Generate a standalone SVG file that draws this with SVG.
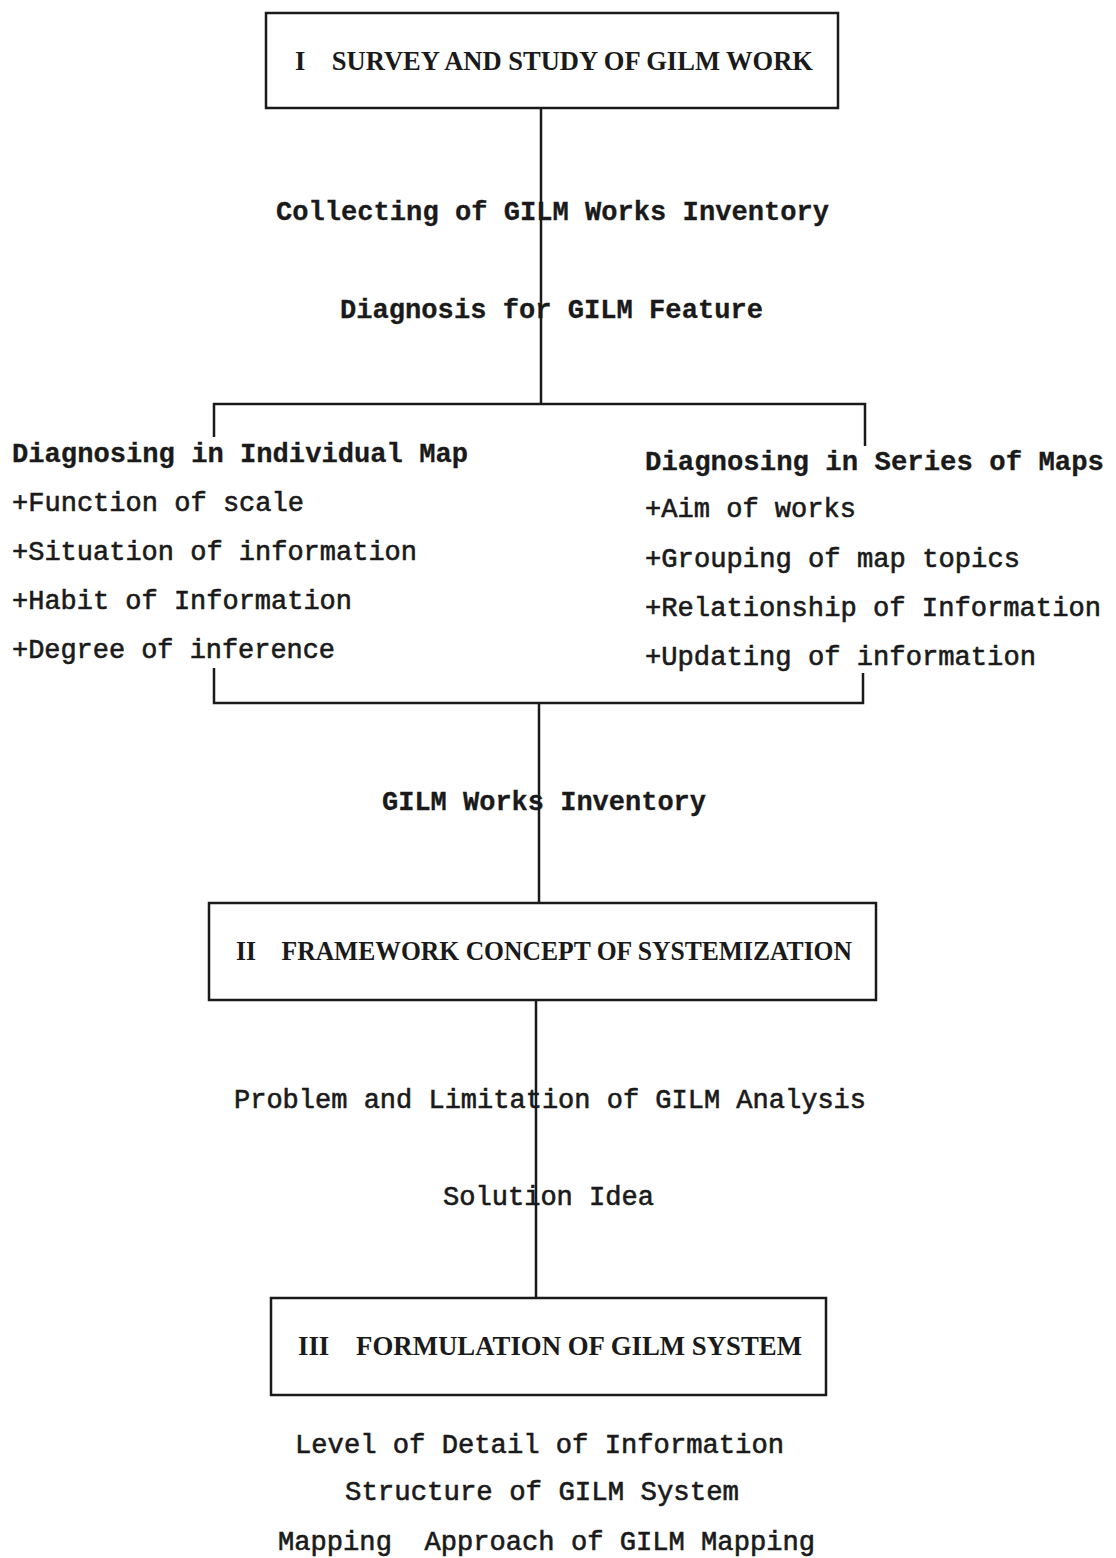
<svg xmlns="http://www.w3.org/2000/svg" width="1116" height="1558" viewBox="0 0 1116 1558">
<style>
.bg{fill:#ffffff}
.box{fill:none;stroke:#1a1a1a;stroke-width:2.5}
.ln{fill:none;stroke:#1a1a1a;stroke-width:2.5}
.t{font-family:"Liberation Mono","DejaVu Sans Mono",monospace;font-size:27px;fill:#1a1a1a;stroke:#1a1a1a;stroke-width:0.6}
.b{font-weight:bold;stroke-width:0.3}
.h{font-family:"Liberation Serif","DejaVu Serif",serif;font-size:27px;font-weight:bold;fill:#1a1a1a}
</style>
<rect class="bg" x="0" y="0" width="1116" height="1558"/>
<g id="connectors">
<line class="ln" x1="541" y1="108" x2="541" y2="404"/>
<polyline class="ln" points="214,437 214,404 865,404 865,446"/>
<polyline class="ln" points="214,668 214,703 863,703 863,673"/>
<line class="ln" x1="539" y1="703" x2="539" y2="903"/>
<line class="ln" x1="536" y1="1000" x2="536" y2="1298"/>
</g>
<g id="node-survey">
<rect class="box" x="266" y="13" width="572" height="95"/>
<text class="h" x="295" y="70" textLength="518" lengthAdjust="spacingAndGlyphs" xml:space="preserve">I    SURVEY AND STUDY OF GILM WORK</text>
</g>
<g id="label-collecting">
<text class="t b" x="276" y="220" textLength="553" lengthAdjust="spacingAndGlyphs">Collecting of GILM Works Inventory</text>
</g>
<g id="label-diagnosis">
<text class="t b" x="340" y="318" textLength="423" lengthAdjust="spacingAndGlyphs">Diagnosis for GILM Feature</text>
</g>
<g id="node-individual">
<text class="t b" x="12" y="462" textLength="456" lengthAdjust="spacingAndGlyphs">Diagnosing in Individual Map</text>
<text class="t" x="12" y="511" textLength="292" lengthAdjust="spacingAndGlyphs">+Function of scale</text>
<text class="t" x="12" y="560" textLength="405" lengthAdjust="spacingAndGlyphs">+Situation of information</text>
<text class="t" x="12" y="609" textLength="340" lengthAdjust="spacingAndGlyphs">+Habit of Information</text>
<text class="t" x="12" y="658" textLength="323" lengthAdjust="spacingAndGlyphs">+Degree of inference</text>
</g>
<g id="node-series">
<text class="t b" x="645" y="470" textLength="459" lengthAdjust="spacingAndGlyphs">Diagnosing in Series of Maps</text>
<text class="t" x="645" y="517" textLength="211" lengthAdjust="spacingAndGlyphs">+Aim of works</text>
<text class="t" x="645" y="567" textLength="375" lengthAdjust="spacingAndGlyphs">+Grouping of map topics</text>
<text class="t" x="645" y="616" textLength="456" lengthAdjust="spacingAndGlyphs">+Relationship of Information</text>
<text class="t" x="645" y="665" textLength="391" lengthAdjust="spacingAndGlyphs">+Updating of information</text>
</g>
<g id="label-inventory">
<text class="t b" x="382" y="810" textLength="324" lengthAdjust="spacingAndGlyphs">GILM Works Inventory</text>
</g>
<g id="node-framework">
<rect class="box" x="209" y="903" width="667" height="97"/>
<text class="h" x="236" y="960" textLength="616" lengthAdjust="spacingAndGlyphs" xml:space="preserve">II    FRAMEWORK CONCEPT OF SYSTEMIZATION</text>
</g>
<g id="label-problem">
<text class="t" x="234" y="1108" textLength="632" lengthAdjust="spacingAndGlyphs">Problem and Limitation of GILM Analysis</text>
</g>
<g id="label-solution">
<text class="t" x="443" y="1205" textLength="211" lengthAdjust="spacingAndGlyphs">Solution Idea</text>
</g>
<g id="node-formulation">
<rect class="box" x="271" y="1298" width="555" height="97"/>
<text class="h" x="298" y="1355" textLength="504" lengthAdjust="spacingAndGlyphs" xml:space="preserve">III    FORMULATION OF GILM SYSTEM</text>
</g>
<g id="node-outputs">
<text class="t" x="295" y="1453" textLength="489" lengthAdjust="spacingAndGlyphs">Level of Detail of Information</text>
<text class="t" x="345" y="1500" textLength="394" lengthAdjust="spacingAndGlyphs">Structure of GILM System</text>
<text class="t" x="278" y="1550" textLength="537" lengthAdjust="spacingAndGlyphs" xml:space="preserve">Mapping  Approach of GILM Mapping</text>
</g>
</svg>
